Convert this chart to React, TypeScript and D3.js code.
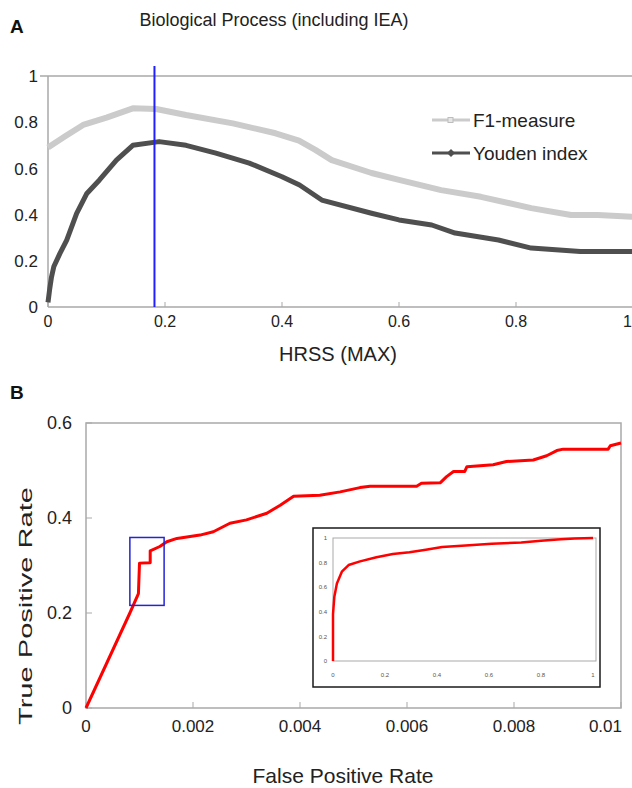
import * as d3 from "d3";

// Panel A: HRSS (MAX) threshold vs. measures
const f1X = [0, 0.03, 0.06, 0.1, 0.145, 0.185, 0.236, 0.316, 0.389, 0.429, 0.457, 0.485, 0.553, 0.6, 0.672, 0.74, 0.826, 0.894, 0.94, 1.0];
const f1Y = [0.69, 0.74, 0.788, 0.82, 0.86, 0.857, 0.831, 0.795, 0.752, 0.72, 0.68, 0.636, 0.58, 0.55, 0.506, 0.477, 0.428, 0.398, 0.398, 0.39];

const youdenX = [0, 0.003, 0.006, 0.01, 0.02, 0.032, 0.049, 0.066, 0.088, 0.117, 0.145, 0.19, 0.236, 0.287, 0.344, 0.4, 0.43, 0.468, 0.553, 0.6, 0.656, 0.696, 0.77, 0.826, 0.91, 1.0];
const youdenY = [0.02, 0.08, 0.13, 0.175, 0.23, 0.29, 0.405, 0.49, 0.55, 0.636, 0.7, 0.716, 0.7, 0.666, 0.623, 0.564, 0.528, 0.463, 0.406, 0.377, 0.355, 0.32, 0.29, 0.255, 0.24, 0.24];

const cutoff = 0.182;
const aTicksX = [0, 0.2, 0.4, 0.6, 0.8, 1];
const aTicksY = [0, 0.2, 0.4, 0.6, 0.8, 1];

// Panel B: ROC curve (zoomed) and full ROC in inset
const rocFpr = [0, 0.00082, 0.00098, 0.001, 0.0012, 0.0012, 0.00138, 0.00151, 0.0017, 0.00213, 0.00238, 0.00269, 0.003, 0.00338, 0.00363, 0.00388, 0.00437, 0.00475, 0.00512, 0.00531, 0.00618, 0.00627, 0.00662, 0.00674, 0.00687, 0.00708, 0.00712, 0.00761, 0.00786, 0.00836, 0.00861, 0.0088, 0.00892, 0.00976, 0.0098, 0.01];
const rocTpr = [0, 0.2, 0.241, 0.305, 0.306, 0.331, 0.34, 0.35, 0.357, 0.364, 0.371, 0.389, 0.396, 0.41, 0.427, 0.446, 0.448, 0.455, 0.464, 0.467, 0.467, 0.473, 0.474, 0.487, 0.498, 0.498, 0.508, 0.512, 0.519, 0.522, 0.531, 0.542, 0.545, 0.545, 0.552, 0.558];
const zoomBox = { fpr: [0.00082, 0.00146], tpr: [0.216, 0.359] };
const bTicksX = [0, 0.002, 0.004, 0.006, 0.008, 0.01];
const bTickLabelsX = ["0", "0.002", "0.004", "0.006", "0.008", "0.01"];
const bTicksY = [0, 0.2, 0.4, 0.6];

const insetFpr = [0, 0, 0.005, 0.015, 0.034, 0.06, 0.104, 0.167, 0.23, 0.294, 0.357, 0.42, 0.51, 0.61, 0.724, 0.8, 0.876, 0.93, 1];
const insetTpr = [0, 0.38, 0.52, 0.63, 0.726, 0.78, 0.81, 0.844, 0.87, 0.885, 0.904, 0.926, 0.94, 0.953, 0.964, 0.978, 0.99, 0.995, 1];
const insetTicks = [0, 0.2, 0.4, 0.6, 0.8, 1];

const FONT = "'Liberation Sans', Arial, sans-serif";
const GRAY = "#a9a9a9";

export default function App() {
  // panel A scales
  const xA = d3.scaleLinear().domain([0, 1]).range([48, 633]);
  const yA = d3.scaleLinear().domain([0, 1]).range([307, 76]);
  const lineA = d3.line<[number, number]>().x((d) => xA(d[0])).y((d) => yA(d[1]));
  const f1Pts = f1X.map((x, i) => [x, f1Y[i]] as [number, number]);
  const ydPts = youdenX.map((x, i) => [x, youdenY[i]] as [number, number]);

  // panel B scales
  const xB = d3.scaleLinear().domain([0, 0.01]).range([86, 621]);
  const yB = d3.scaleLinear().domain([0, 0.6]).range([708, 423]);
  const lineB = d3.line<[number, number]>().x((d) => xB(d[0])).y((d) => yB(d[1]));
  const rocPts = rocFpr.map((x, i) => [x, rocTpr[i]] as [number, number]);

  // inset scales
  const xI = d3.scaleLinear().domain([0, 1]).range([333, 593]);
  const yI = d3.scaleLinear().domain([0, 1]).range([661, 538]);
  const lineI = d3.line<[number, number]>().x((d) => xI(d[0])).y((d) => yI(d[1]));
  const insetPts = insetFpr.map((x, i) => [x, insetTpr[i]] as [number, number]);

  return (
    <>
      <style>{`body{margin:0}`}</style>
      <svg width={632} height={788} style={{ display: "block", background: "#fff" }} fontFamily={FONT}>
        {/* ---------- Panel A ---------- */}
        <text x={10} y={33} fontSize={19} fontWeight="bold" fill="#111">A</text>
        <text x={274} y={26} fontSize={18} textAnchor="middle" fill="#222">Biological Process (including IEA)</text>

        <line x1={40} x2={632} y1={yA(1)} y2={yA(1)} stroke={GRAY} strokeWidth={1.5} />
        <line x1={xA(0)} x2={xA(0)} y1={yA(1)} y2={yA(0)} stroke={GRAY} strokeWidth={1.5} />
        <line x1={xA(0)} x2={632} y1={yA(0)} y2={yA(0)} stroke={GRAY} strokeWidth={1.5} />
        {aTicksX.map((t, i) => (
          <g key={"ax" + t}>
            <line x1={xA(t)} x2={xA(t)} y1={yA(0)} y2={yA(0) - 5} stroke={GRAY} />
            <text
              x={i === aTicksX.length - 1 ? 632 : xA(t)}
              y={327}
              fontSize={16}
              textAnchor={i === aTicksX.length - 1 ? "end" : "middle"}
              fill="#222"
            >
              {t}
            </text>
          </g>
        ))}
        {aTicksY.map((t) => (
          <text key={"ay" + t} x={38} y={yA(t)} dy="0.36em" fontSize={17} textAnchor="end" fill="#222">{t}</text>
        ))}
        <text x={338} y={361} fontSize={20} textAnchor="middle" fill="#222">HRSS (MAX)</text>

        <path d={lineA(f1Pts) ?? ""} fill="none" stroke="#cbcbcb" strokeWidth={6} strokeLinejoin="round" />
        <path d={lineA(ydPts) ?? ""} fill="none" stroke="#4f4f4f" strokeWidth={5} strokeLinejoin="round" />
        <line x1={xA(cutoff)} x2={xA(cutoff)} y1={66} y2={yA(0)} stroke="#1f1fff" strokeWidth={2} />

        {/* legend */}
        <line x1={432} x2={470} y1={120} y2={120} stroke="#cbcbcb" strokeWidth={3} />
        <rect x={448} y={117.5} width={5} height={5} fill="#e6e6e6" stroke="#bdbdbd" />
        <text x={473} y={127} fontSize={19} fill="#222">F1-measure</text>
        <line x1={432} x2={470} y1={153} y2={153} stroke="#4f4f4f" strokeWidth={3} />
        <path d="M451,149 L455,153 L451,157 L447,153 Z" fill="#4f4f4f" />
        <text x={473} y={160} fontSize={19} fill="#222">Youden index</text>

        {/* ---------- Panel B ---------- */}
        <text x={10} y={399} fontSize={19} fontWeight="bold" fill="#111">B</text>
        <rect x={xB(0)} y={yB(0.6)} width={xB(0.01) - xB(0)} height={yB(0) - yB(0.6)} fill="none" stroke={GRAY} strokeWidth={1.5} />
        {bTicksX.map((t, i) => (
          <g key={"bx" + t}>
            <line x1={xB(t)} x2={xB(t)} y1={yB(0)} y2={yB(0) - 6} stroke={GRAY} />
            <text
              x={i === bTicksX.length - 1 ? 622 : xB(t)}
              y={732}
              fontSize={17}
              textAnchor={i === bTicksX.length - 1 ? "end" : "middle"}
              fill="#222"
            >
              {bTickLabelsX[i]}
            </text>
          </g>
        ))}
        {bTicksY.map((t) => (
          <g key={"by" + t}>
            <line x1={xB(0)} x2={xB(0) + 6} y1={yB(t)} y2={yB(t)} stroke={GRAY} />
            <text x={72} y={yB(t)} dy="0.36em" fontSize={18} textAnchor="end" fill="#222">{t}</text>
          </g>
        ))}
        <text x={343} y={783} fontSize={21} textAnchor="middle" fill="#222">False Positive Rate</text>
        <text
          transform="translate(32,606) rotate(-90)"
          fontSize={19}
          textAnchor="middle"
          textLength={238}
          lengthAdjust="spacingAndGlyphs"
          fill="#222"
        >
          True Positive Rate
        </text>

        <path d={lineB(rocPts) ?? ""} fill="none" stroke="#ff0000" strokeWidth={3} strokeLinejoin="round" />
        <rect
          x={xB(zoomBox.fpr[0])}
          y={yB(zoomBox.tpr[1])}
          width={xB(zoomBox.fpr[1]) - xB(zoomBox.fpr[0])}
          height={yB(zoomBox.tpr[0]) - yB(zoomBox.tpr[1])}
          fill="none"
          stroke="#2323d8"
          strokeWidth={1.5}
        />

        {/* inset: full ROC */}
        <rect x={313} y={528} width={287} height={159} fill="#fff" stroke="#1a1a1a" strokeWidth={1.5} />
        <rect x={xI(0)} y={yI(1)} width={596 - xI(0)} height={yI(0) - yI(1)} fill="none" stroke={GRAY} strokeWidth={1} />
        {insetTicks.map((t) => (
          <g key={"ix" + t}>
            <text x={xI(t)} y={677} fontSize={6} textAnchor="middle" fill="#555">{t}</text>
            <text x={327} y={yI(t)} dy="0.35em" fontSize={6} textAnchor="end" fill="#555">{t}</text>
          </g>
        ))}
        <path d={lineI(insetPts) ?? ""} fill="none" stroke="#ff0000" strokeWidth={2.5} strokeLinejoin="round" />
      </svg>
    </>
  );
}
